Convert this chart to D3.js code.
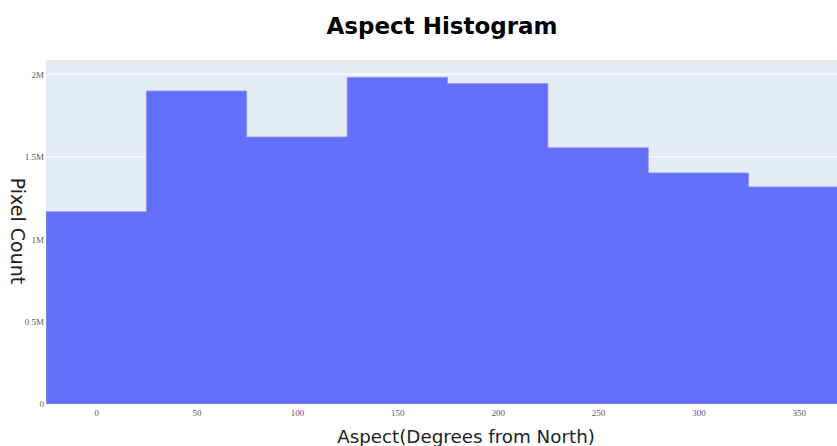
<!DOCTYPE html>
<html><head><meta charset="utf-8">
<script src="https://cdn.jsdelivr.net/npm/d3@7"></script>
<style>body{margin:0;background:#fff;} svg{display:block;}</style>
</head><body>
<script>
const binStarts = [-25, 25, 75, 125, 175, 225, 275, 325];
const binWidth = 50;
const counts = [1167000, 1899000, 1620000, 1982000, 1944000, 1555000, 1402000, 1317000];
const xTicks = [0, 50, 100, 150, 200, 250, 300, 350];
const yTicks = [0, 500000, 1000000, 1500000, 2000000];
const yTickLabels = ["0", "0.5M", "1M", "1.5M", "2M"];

(function(){
const W = 837, H = 446;
const mL = 46, mR = 837, mT = 60, mB = 404;
const svg = d3.select("body").append("svg").attr("width", W).attr("height", H);

const x = d3.scaleLinear().domain([-25, 369]).range([mL, mR]);
const y = d3.scaleLinear().domain([0, 2087000]).range([mB, mT]);

svg.append("defs").append("clipPath").attr("id", "clip")
  .append("rect").attr("x", mL).attr("y", mT).attr("width", mR-mL).attr("height", mB-mT);

svg.append("rect").attr("x", mL).attr("y", mT).attr("width", mR-mL).attr("height", mB-mT).attr("fill", "#E5ECF6");

svg.append("g").selectAll("line").data(yTicks.slice(1)).join("line")
  .attr("x1", mL).attr("x2", mR)
  .attr("y1", d => y(d)).attr("y2", d => y(d))
  .attr("stroke", "#fff").attr("stroke-width", 1);

// histogram as one step-shaped path
const pts = [[x(binStarts[0]), y(0)]];
counts.forEach((c,i) => {
  pts.push([x(binStarts[i]), y(c)]);
  pts.push([x(binStarts[i]+binWidth), y(c)]);
});
pts.push([x(binStarts[binStarts.length-1]+binWidth), y(0)]);
svg.append("path")
  .attr("clip-path", "url(#clip)")
  .attr("d", d3.line()(pts) + "Z")
  .attr("fill", "#636EFA")
  .attr("stroke", "#8f97fb").attr("stroke-width", 0.8);

const yAxis = d3.axisLeft(y).tickValues(yTicks).tickFormat((d,i) => yTickLabels[i]).tickSize(0).tickPadding(2);
const gy = svg.append("g").attr("transform", `translate(${mL},0)`).call(yAxis);
gy.select(".domain").remove();
gy.selectAll("text").attr("font-family", "'Liberation Serif', serif").attr("font-size", 9).attr("fill", "#5a5a5a");

const xAxis = d3.axisBottom(x).tickValues(xTicks).tickSize(0).tickPadding(6);
const gx = svg.append("g").attr("transform", `translate(0,${mB})`).call(xAxis);
gx.select(".domain").remove();
gx.selectAll("text").attr("font-family", "'Liberation Serif', serif").attr("font-size", 9).attr("fill", "#5a5a5a");

svg.append("text").attr("x", 442).attr("y", 34).attr("text-anchor", "middle")
  .attr("font-family", "'DejaVu Sans', sans-serif").attr("font-weight", "bold").attr("font-size", 23)
  .attr("fill", "#000").text("Aspect Histogram");
svg.append("text").attr("x", 466).attr("y", 443).attr("text-anchor", "middle")
  .attr("font-family", "'DejaVu Sans', sans-serif").attr("font-size", 18.3)
  .attr("fill", "#222").text("Aspect(Degrees from North)");
svg.append("text").attr("transform", "translate(11,231) rotate(90)").attr("text-anchor", "middle")
  .attr("font-family", "'DejaVu Sans', sans-serif").attr("font-size", 19)
  .attr("fill", "#222").text("Pixel Count");
})();
</script>
</body></html>
